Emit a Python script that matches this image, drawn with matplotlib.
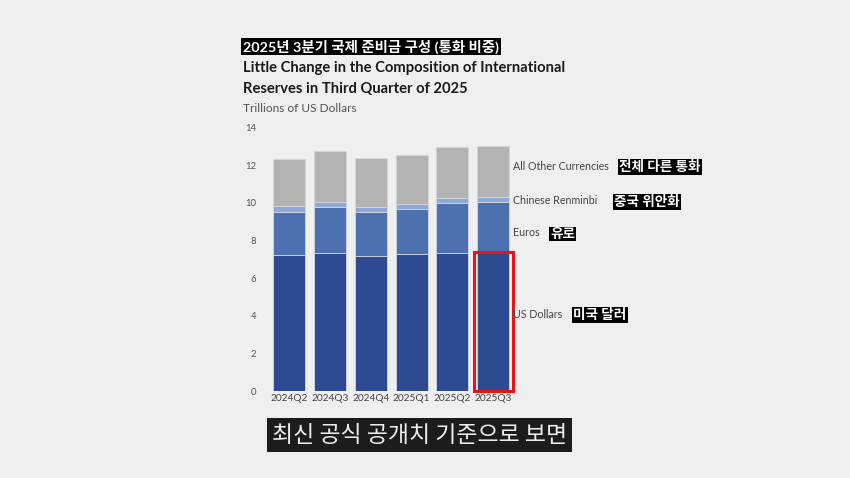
import numpy as np
import matplotlib.pyplot as plt
from matplotlib.patches import Rectangle

plt.rcParams['font.family'] = ['Lato', 'Noto Sans CJK KR', 'DejaVu Sans']

# data (trillions of US dollars)
quarters = ['2024Q2', '2024Q3', '2024Q4', '2025Q1', '2025Q2', '2025Q3']
usd = [7.21, 7.35, 7.17, 7.29, 7.35, 7.40]
eur = [2.31, 2.42, 2.34, 2.38, 2.62, 2.64]
cny = [0.29, 0.27, 0.28, 0.26, 0.28, 0.28]
other = [2.51, 2.70, 2.56, 2.58, 2.69, 2.70]

series_en = ['US Dollars', 'Euros', 'Chinese Renminbi', 'All Other Currencies']
series_ko = ['미국 달러', '유로', '중국 위안화', '전체 다른 통화']
colors = ['#2d4a93', '#4c70b0', '#8ea9d8', '#b3b3b3']

W, H = 850, 478
def fx(x):
    return x / W
def fy(y):
    return 1 - y / H

fig = plt.figure(figsize=(8.5, 4.78), dpi=100)
fig.patch.set_facecolor('#efefef')

ax = fig.add_axes([fx(268.8), fy(391.2), 244.8 / W, 263.9 / H])
ax.set_facecolor('none')

x = np.arange(len(quarters))
bottom = np.zeros(len(quarters))
for vals, c in zip([usd, eur, cny, other], colors):
    ax.bar(x, vals, width=0.78, bottom=bottom, color=c,
           edgecolor='#d3d6dc', linewidth=0.6)
    bottom = bottom + np.array(vals)

ax.set_xlim(-0.5, len(quarters) - 0.5)
ax.set_ylim(0, 14)
ax.set_yticks(range(0, 15, 2))
ax.set_xticks(x)
ax.set_xticklabels(quarters)
ax.tick_params(axis='y', length=0, pad=9, labelsize=6.8, labelcolor='#555555')
ax.tick_params(axis='x', length=0, pad=2, labelsize=7.3, labelcolor='#444444')
for s in ax.spines.values():
    s.set_visible(False)

# red highlight around the latest quarter
ax.add_patch(Rectangle((x[-1] - 0.48, 0), 0.96, usd[-1], fill=False,
                       edgecolor='#ee1111', linewidth=2.2, clip_on=False,
                       zorder=5))

# series labels on the right
label_y = [314, 233, 201, 166]
ko_x = [571, 548, 612, 617]
for en, ko, y, kx in zip(series_en, series_ko, label_y, ko_x):
    fig.text(fx(513), fy(y), en, fontsize=7.7, color='#444444',
             va='center', ha='left')
    fig.text(fx(kx + 2), fy(y + 1), ko, fontsize=9.8, fontweight='bold',
             color='white', va='center', ha='left',
             bbox=dict(boxstyle='square,pad=0.1', fc='black', ec='none'))

# titles
fig.text(fx(243), fy(46.5), '2025년 3분기 국제 준비금 구성 (통화 비중)',
         fontsize=10.4, fontweight='bold', color='white', va='center',
         ha='left', bbox=dict(boxstyle='square,pad=0.12', fc='black', ec='none'))
fig.text(fx(243), fy(68), 'Little Change in the Composition of International',
         fontsize=10.6, fontweight='bold', color='#1a1a1a', va='center')
fig.text(fx(243), fy(89), 'Reserves in Third Quarter of 2025',
         fontsize=10.6, fontweight='bold', color='#1a1a1a', va='center')
fig.text(fx(243), fy(108), 'Trillions of US Dollars',
         fontsize=8.6, color='#555555', va='center')

# caption
fig.text(fx(419.5), fy(435), '최신 공식 공개치 기준으로 보면',
         fontsize=16.5, color='#eeeeee', va='center', ha='center',
         family=['Noto Sans CJK KR', 'DejaVu Sans'], fontweight='light',
         bbox=dict(boxstyle='square,pad=0.22', fc='#1c1c1c', ec='none'))

fig.savefig('out.png', dpi=100, facecolor=fig.get_facecolor())
